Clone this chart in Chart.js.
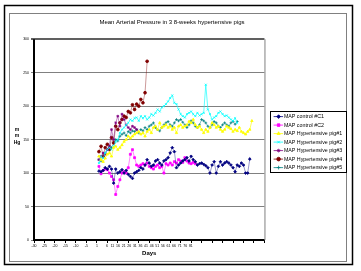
<!DOCTYPE html>
<html lang="en">
<head>
<meta charset="UTF-8">
<title>Mean Arterial Pressure</title>
<script src="https://cdn.jsdelivr.net/npm/chart.js"></script>
<style>
    body { margin: 0; padding: 0; background: #fff; }
    canvas { display: block; }
</style>
</head>
<body>
<canvas id="mapChart" width="361" height="271"></canvas>
<script>
    // days since start of measurements (shared x values)
    var days = [1,2,3,4,5,6,7,8,9,10,11,12,13,14,15,16,17,18,19,20,21,22,23,24,25,26,27,28,29,30,31,32,33,34,35,36,37,
                38,39,40,41,42,43,44,45,46,47,48,49,50,51,52,53,54,55,56,57,58,59,60,61,62,63,64,65,66,67,68,69,70,71,72,73,74];

    var seriesNames = ['MAP control #C1', 'MAP control #C2', 'MAP Hypertensive pig#1', 'MAP Hypertensive pig#2',
                       'MAP Hypertensive pig#3', 'MAP Hypertensive pig#4', 'MAP Hypertensive pig#5'];

    var controlC1 = [103,102,104,108,106,110,106,85,106,100,102,105,100,104,98,95,92,100,102,104,108,106,112,120,115,110,
                     112,118,120,115,112,118,120,123,130,138,132,108,112,115,118,120,123,118,125,120,117,112,114,115,113,
                     111,108,100,112,117,100,110,117,112,115,117,115,112,108,102,112,110,115,112,100,100,121];
    var controlC2 = [110,99,104,106,105,100,95,90,68,80,90,100,102,100,108,128,135,123,112,110,112,114,112,115,110,108,
                     106,110,112,108,110,100,114,112,115,112,117,115,120,118,116,123,118,115,114,116,114];
    var pig1 = [125,120,117,122,128,130,125,138,140,135,138,142,147,150,155,152,155,158,160,162,158,160,155,162,165,160,
                168,170,165,175,168,170,172,168,170,165,168,160,170,172,168,170,172,177,175,180,172,168,170,165,160,165,
                162,168,175,172,168,170,165,162,165,170,168,166,162,165,163,168,162,160,158,162,165,178];
    var pig2 = [115,125,122,130,135,138,135,140,147,150,160,165,168,172,175,180,178,182,183,178,185,182,185,180,183,188,
                186,190,195,192,198,200,203,207,212,216,205,203,195,188,185,183,188,190,192,188,185,190,186,188,190,232,
                195,188,180,183,185,190,192,188,185,186,183,180,178,182,175];
    var pig3 = [120,125,130,128,135,140,165,150,175,185,170,188,180,172,168,165,170,168,165];
    var pig4 = [132,140,125,138,143,135,153,145,170,165,175,180,185,183,192,190,202,195,203,200,210,205,220,267];
    var pig5 = [120,118,125,130,135,140,138,145,150,148,155,158,160,156,162,160,163,162,165,160,165,163,168,165,170,172,
                175,168,165,163,168,172,175,177,172,170,175,180,178,180,176,172,168,172,178,175,170,168,172,180,178,175,
                170,168,172,177,175,170,168,172,175,172,170,175,177,173,177];

    var seriesValues = [controlC1, controlC2, pig1, pig2, pig3, pig4, pig5];
    var seriesColors = ['#000080', '#ff00ff', '#ffff00', '#00ffff', '#800080', '#800000', '#008080'];
    var lineColors = ['rgba(0,0,128,0.5)', 'rgba(255,0,255,0.6)', 'rgba(255,255,0,0.8)', 'rgba(0,255,255,0.8)',
                      'rgba(128,0,128,0.6)', 'rgba(128,0,0,0.5)', 'rgba(0,128,128,0.6)'];
    var markers = ['rectRot', 'rect', 'triangle', 'crossRot', 'star', 'circle', 'cross'];

    // labels Excel squeezed after day 1
    var squeezedLabels = ['6','11','16','21','26','31','36','41','46','51','56','61','66','71','76','81'];

    var datasets = seriesValues.map(function(values, s) {
        return {
            label: seriesNames[s],
            data: values.map(function(v, i) { return { x: days[i], y: v }; }),
            borderColor: lineColors[s],
            backgroundColor: seriesColors[s],
            pointBackgroundColor: seriesColors[s],
            pointBorderColor: seriesColors[s],
            pointStyle: markers[s],
            pointRadius: 1.4,
            pointBorderWidth: 0.8,
            borderWidth: 0.8,
            tension: 0
        };
    });

    var frames = {
        id: 'frames',
        afterLayout: function(chart) {
            // legend sits a little right of the plot, like the Excel one
            chart.legend.left += 8.3;
            chart.legend.right += 8.3;
        },
        beforeDraw: function(chart) {
            var ctx = chart.ctx;
            ctx.save();
            ctx.fillStyle = '#fff';
            ctx.fillRect(0, 0, chart.width, chart.height);
            ctx.lineWidth = 1.5;
            ctx.strokeStyle = '#000';
            ctx.strokeRect(4.5, 5.5, 348, 259);
            ctx.lineWidth = 1;
            ctx.strokeStyle = '#808080';
            ctx.strokeRect(9.5, 13.5, 337, 248);
            ctx.restore();
        },
        beforeDatasetsDraw: function(chart) {
            var ctx = chart.ctx;
            var area = chart.chartArea;
            ctx.save();
            ctx.strokeStyle = '#808080';
            ctx.lineWidth = 1;
            ctx.beginPath();
            ctx.moveTo(area.right + 0.5, area.top);
            ctx.lineTo(area.right + 0.5, area.bottom);
            ctx.stroke();
            ctx.restore();
        },
        afterDraw: function(chart) {
            var ctx = chart.ctx;
            var area = chart.chartArea;
            ctx.save();
            // axis lines
            ctx.strokeStyle = '#000';
            ctx.lineWidth = 2;
            ctx.beginPath();
            ctx.moveTo(area.left, area.top);
            ctx.lineTo(area.left, area.bottom);
            ctx.lineTo(area.right, area.bottom);
            ctx.stroke();
            // y axis title, stacked
            ctx.fillStyle = '#000';
            ctx.font = 'bold 5px "Liberation Sans", Arial, sans-serif';
            ctx.textAlign = 'center';
            ctx.textBaseline = 'middle';
            ctx.fillText('m', 17, 130);
            ctx.fillText('m', 17, 136);
            ctx.fillText('Hg', 17, 143);
            // squeezed category labels
            ctx.font = '3.5px "Liberation Sans", Arial, sans-serif';
            var xs = chart.scales.x;
            var x0 = xs.getPixelForValue(0) + 10;
            squeezedLabels.forEach(function(t, i) {
                ctx.fillText(t, x0 + i * 5.6, area.bottom + 6);
            });
            // legend: line samples and border
            var boxes = chart.legend.legendHitBoxes;
            var items = chart.legend.legendItems;
            if (boxes && boxes.length) {
                var l = Infinity, t = Infinity, r = -Infinity, b = -Infinity;
                boxes.forEach(function(h, i) {
                    l = Math.min(l, h.left); t = Math.min(t, h.top);
                    r = Math.max(r, h.left + h.width); b = Math.max(b, h.top + h.height);
                    var cx = h.left + 2.65, cy = h.top + h.height / 2;
                    ctx.strokeStyle = seriesColors[items[i].datasetIndex];
                    ctx.lineWidth = 0.8;
                    ctx.beginPath();
                    ctx.moveTo(cx - 5, cy);
                    ctx.lineTo(cx + 4.5, cy);
                    ctx.stroke();
                });
                ctx.strokeStyle = '#000';
                ctx.lineWidth = 1;
                ctx.strokeRect(Math.round(l) - 5.5, Math.round(t) - 2.5, Math.round(r - l) + 10, Math.round(b - t) + 5);
            }
            ctx.restore();
        }
    };

    var ctx = document.getElementById('mapChart').getContext('2d');
    new Chart(ctx, {
        type: 'line',
        data: { datasets: datasets },
        options: {
            responsive: false,
            animation: false,
            layout: { padding: { left: 0, right: 17.1, top: 0, bottom: 14 } },
            plugins: {
                title: {
                    display: true,
                    text: 'Mean Arterial Pressure in 3 8-weeks hypertensive pigs',
                    color: '#000',
                    font: { family: '"Liberation Sans", Arial, sans-serif', size: 6, weight: 'normal' },
                    padding: { top: 19, bottom: 13 }
                },
                legend: {
                    position: 'right',
                    fullSize: false,
                    title: { display: true, text: ' ', font: { size: 1 }, padding: { top: 0, bottom: 3.8 } },
                    labels: {
                        color: '#000',
                        font: { family: '"Liberation Sans", Arial, sans-serif', size: 5.3 },
                        usePointStyle: true,
                        boxWidth: 5.3,
                        boxHeight: 2.6,
                        padding: 3.2
                    }
                },
                tooltip: { enabled: false }
            },
            scales: {
                x: {
                    type: 'linear',
                    min: -30,
                    max: 80,
                    afterFit: function(scale) { scale.height = 17; },
                    afterBuildTicks: function(scale) {
                        var t = [];
                        for (var v = -30; v <= 80; v += 5) t.push({ value: v });
                        scale.ticks = t;
                    },
                    ticks: {
                        color: '#000',
                        font: { family: '"Liberation Sans", Arial, sans-serif', size: 3.5 },
                        maxRotation: 0,
                        autoSkip: false,
                        padding: 1,
                        callback: function(v) { return v < 0 ? String(v) : (v === 0 ? '1' : ''); }
                    },
                    grid: { drawOnChartArea: false, drawTicks: true, tickLength: 3, color: '#000' },
                    border: { display: false },
                    title: {
                        display: true,
                        text: 'Days',
                        color: '#000',
                        font: { family: '"Liberation Sans", Arial, sans-serif', size: 6, weight: 'bold' },
                        padding: 0
                    }
                },
                y: {
                    min: 0,
                    max: 300,
                    afterFit: function(scale) { scale.width = 34; },
                    ticks: {
                        stepSize: 50,
                        color: '#000',
                        font: { family: '"Liberation Sans", Arial, sans-serif', size: 3.5 },
                        padding: 2
                    },
                    grid: {
                        color: function(c) { return c.tick && c.tick.value === 300 ? '#606060' : '#808080'; },
                        lineWidth: function(c) { return c.tick && c.tick.value === 300 ? 2 : 1; },
                        tickLength: 3
                    },
                    border: { display: false }
                }
            }
        },
        plugins: [frames]
    });
</script>
</body>
</html>
